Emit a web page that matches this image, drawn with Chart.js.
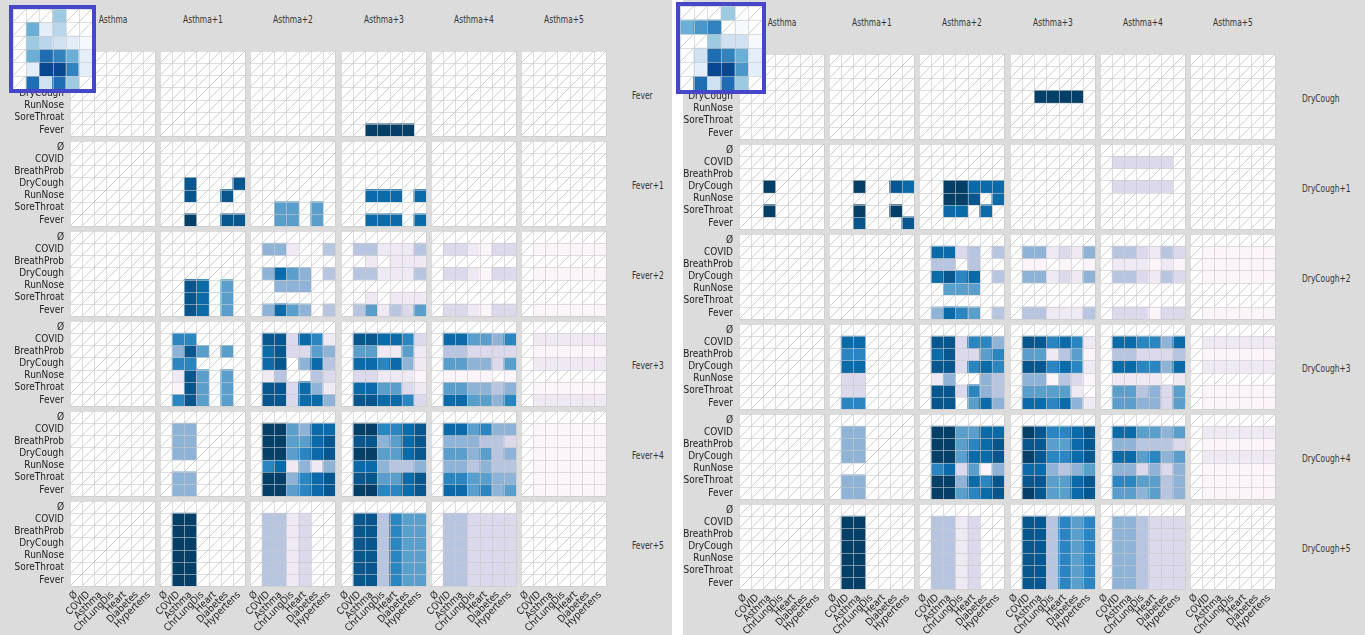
<!DOCTYPE html>
<html>
<head>
<meta charset="utf-8">
<script src="https://cdn.jsdelivr.net/npm/chart.js@4.4.1/dist/chart.umd.min.js"></script>
<style>
  html, body { margin: 0; padding: 0; background: #fff; }
  body { width: 1365px; height: 635px; position: relative; overflow: hidden;
         font-family: 'DejaVu Sans Condensed', 'Liberation Sans', sans-serif; }
  .panel { position: absolute; top: 0; height: 635px; background: #dcdcdc; }
  .lbl { position: absolute; font-size: 11px; line-height: 12px; color: #333; white-space: nowrap;
         transform: scaleX(0.76); transform-origin: left center; }
  .lbl.head { transform-origin: center center; }
  canvas { position: absolute; }
  .inset { position: absolute; box-sizing: border-box; border: 4px solid #4646c8; background: #fff; }
  .inset canvas { left: 0; top: 0; }
</style>
</head>
<body>
<script>
// axis categories inside every small heatmap
const COLS = ['Ø', 'COVID', 'Asthma', 'ChrLungDis', 'Heart', 'Diabetes', 'Hypertens'];
const ROWS = ['Ø', 'COVID', 'BreathProb', 'DryCough', 'RunNose', 'SoreThroat', 'Fever'];

// facet labels
const FACET_COLS = ['Asthma', 'Asthma+1', 'Asthma+2', 'Asthma+3', 'Asthma+4', 'Asthma+5'];
const LEFT_ROWS = ['Fever', 'Fever+1', 'Fever+2', 'Fever+3', 'Fever+4', 'Fever+5'];
const RIGHT_ROWS = ['DryCough', 'DryCough+1', 'DryCough+2', 'DryCough+3', 'DryCough+4', 'DryCough+5'];

// colour levels 0..9 ('.' = no value, hatched)
const PUBU = ['#fbf4f9', '#eee9f3', '#dbd9eb', '#b8c5e0', '#8fb3d6', '#5a9fcc', '#2b85c0', '#0b6aa8', '#07568e', '#033f66'];
const BLUES = ['#f5f9fe', '#e3eef9', '#d0e1f2', '#bad6eb', '#9ecae1', '#6baed6', '#4a98c9', '#3182bd', '#1f6eb3', '#08468f'];

// left panel: one list per facet row, one entry per facet column (rows Ø..Fever, cols Ø..Hypertens)
const fever0 = [
  null, null, null,
  ['.......', '.......', '.......', '.......', '.......', '.......', '..9999.'],
  null, null
];
const fever1 = [
  null,
  ['.......', '.......', '.......', '..8...8', '..8..8.', '.......', '..9..88'],
  ['.......', '.......', '.......', '.......', '.......', '..55.5.', '..55.5.'],
  ['.......', '.......', '.......', '.......', '..777.7', '.......', '..777.7'],
  null, null
];
const fever2 = [
  null,
  ['.......', '.......', '.......', '.......', '..87.5.', '..87.5.', '..87.5.'],
  ['.......', '.441..3', '.......', '.4754.3', '..444..', '.......', '.4754.3'],
  ['.......', '.331113', '..1.111', '.331113', '.......', '..1.111', '.351325'],
  ['.......', '.221022', '.......', '.221022', '.......', '.......', '.221022'],
  ['.......', '.000000', '.......', '.000000', '.......', '.......', '.000000']
];
const fever3 = [
  null,
  ['.......', '.66....', '.485.5.', '.66....', '.185.5.', '.085.5.', '.685.5.'],
  ['.......', '.882761', '.782254', '.78.473', '.13..32', '.882741', '.882774'],
  ['.......', '.887762', '.551151', '.776741', '.221110', '.775521', '.887762'],
  ['.......', '.775546', '.332222', '.554425', '.0000.0', '.554434', '.775546'],
  ['.......', '.111111', '.000000', '.111111', '.......', '.000000', '.111111']
];
const fever4 = [
  null,
  ['.......', '.44....', '.44....', '.44....', '.......', '.44....', '.44....'],
  ['.......', '.995477', '.995578', '.995678', '.671414', '.994678', '.995678'],
  ['.......', '.996678', '.884578', '.995578', '.774334', '.885578', '.996678'],
  ['.......', '.775644', '.444332', '.554534', '.443433', '.665544', '.775645'],
  ['.......', '.000000', '.000000', '.000000', '.000000', '.000000', '.000000']
];
const fever5 = [
  null,
  ['.......', '.99....', '.99....', '.99....', '.99....', '.99....', '.99....'],
  ['.......', '.3312..', '.3312..', '.3312..', '.3312..', '.3312..', '.3312..'],
  ['.......', '.883655', '.883655', '.883655', '.883655', '.883655', '.883655'],
  ['.......', '.332222', '.332222', '.332222', '.332222', '.332222', '.332222'],
  null
];

// right panel
const dry0 = [
  null, null, null,
  ['.......', '.......', '.......', '..9999.', '.......', '.......', '.......'],
  null, null
];
const dry1 = [
  ['.......', '.......', '.......', '..9....', '.......', '..9....', '.......'],
  ['.......', '.......', '.......', '..9..87', '.......', '..9..9.', '..8...8'],
  ['.......', '.......', '.......', '..99777', '..998.7', '..77.7.', '.......'],
  null,
  ['.......', '.22222.', '.......', '.22222.', '.......', '.......', '.......'],
  null
];
const dry2 = [
  null, null,
  ['.......', '.7723.3', '.33.3..', '.7867.3', '..555..', '.......', '.4765.3'],
  ['.......', '.441214', '.00.0.0', '.441214', '.......', '.......', '.331113'],
  ['.......', '.332132', '.111010', '.332132', '.......', '.......', '.222022'],
  ['.......', '.000000', '.000000', '.000000', '.......', '.......', '.000000']
];
const dry3 = [
  null,
  ['.......', '.77....', '.66....', '.77....', '.22....', '.22....', '.66....'],
  ['.......', '.882664', '.782256', '.882676', '.14..43', '.882643', '.88.574'],
  ['.......', '.886761', '.551350', '.886761', '.440320', '.55551.', '.776741'],
  ['.......', '.776647', '.332223', '.776647', '.1111.1', '.553425', '.554425'],
  ['.......', '.111111', '.000000', '.111111', '.......', '.000000', '.000000']
];
const dry4 = [
  null,
  ['.......', '.44....', '.44....', '.44....', '.......', '.44....', '.44....'],
  ['.......', '.995577', '.995678', '.995778', '.672504', '.994768', '.995678'],
  ['.......', '.986678', '.885578', '.986678', '.774345', '.885578', '.985578'],
  ['.......', '.775545', '.443332', '.775645', '.442424', '.665534', '.554534'],
  ['.......', '.111111', '.000000', '.111111', '.000000', '.000000', '.000000']
];
const dry5 = [
  null,
  ['.......', '.99....', '.99....', '.99....', '.99....', '.99....', '.99....'],
  ['.......', '.3312..', '.3312..', '.3312..', '.3312..', '.3312..', '.3312..'],
  ['.......', '.883656', '.883656', '.883656', '.883656', '.883656', '.883656'],
  ['.......', '.443222', '.443222', '.443222', '.443222', '.443222', '.443222'],
  null
];

// overview insets (facet rows x facet cols)
const leftInset = ['...4..', '.513..', '.43210', '.58751', '.19971', '.8284.'];
const rightInset = ['...4..', '567.0.', '..4220', '.28751', '.19961', '.8284.'];

// layout
const SIZE = 85, PITCH_X = 90.2, PITCH_Y = 90;
const PAD = 14, YW = 64, XH = 50;
const TICK_FONT = { family: "'DejaVu Sans Condensed', 'Liberation Sans', sans-serif", size: 10 };

const PANELS = [
  { bg: [0, 672], x0: 70, y0: 51, rows: LEFT_ROWS, facets: [fever0, fever1, fever2, fever3, fever4, fever5],
    inset: leftInset, box: [9, 5, 87, 88], rowLabelX: 632 },
  { bg: [683, 682], x0: 739, y0: 54, rows: RIGHT_ROWS, facets: [dry0, dry1, dry2, dry3, dry4, dry5],
    inset: rightInset, box: [676, 2, 90, 92], rowLabelX: 1302 }
];

// white cells with diagonal hatch underneath, light grid on top
const cellPlugin = {
  id: 'cells',
  beforeDatasetsDraw(chart) {
    const { ctx, chartArea: a } = chart;
    const nx = chart.data.labels.length, ny = chart.data.datasets.length;
    const cw = (a.right - a.left) / nx, ch = (a.bottom - a.top) / ny;
    ctx.save();
    ctx.fillStyle = '#fff';
    ctx.fillRect(a.left, a.top, a.right - a.left, a.bottom - a.top);
    ctx.strokeStyle = '#c6c6c6';
    ctx.lineWidth = 0.9;
    ctx.beginPath();
    for (let r = 0; r < ny; r++) {
      for (let c = 0; c < nx; c++) {
        ctx.moveTo(a.left + c * cw, a.top + (r + 1) * ch);
        ctx.lineTo(a.left + (c + 1) * cw, a.top + r * ch);
      }
    }
    ctx.stroke();
    ctx.restore();
  },
  afterDatasetsDraw(chart) {
    const { ctx, chartArea: a } = chart;
    const nx = chart.data.labels.length, ny = chart.data.datasets.length;
    const cw = (a.right - a.left) / nx, ch = (a.bottom - a.top) / ny;
    ctx.save();
    ctx.strokeStyle = 'rgba(200,200,200,0.6)';
    ctx.lineWidth = 1;
    ctx.beginPath();
    for (let c = 0; c <= nx; c++) {
      const x = Math.round(a.left + c * cw) + 0.5;
      ctx.moveTo(x, a.top); ctx.lineTo(x, a.bottom);
    }
    for (let r = 0; r <= ny; r++) {
      const y = Math.round(a.top + r * ch) + 0.5;
      ctx.moveTo(a.left, y); ctx.lineTo(a.right, y);
    }
    ctx.stroke();
    ctx.restore();
  }
};

function heatmap(canvas, grid, xLabels, yLabels, palette, opts) {
  const n = yLabels.length;
  const filled = (r, c) => grid && grid[r][c] !== '.';
  return new Chart(canvas, {
    type: 'bar',
    data: {
      labels: xLabels,
      datasets: yLabels.map((name, r) => ({
        label: name,
        data: xLabels.map((_, c) => filled(r, c) ? [n - 1 - r, n - r] : null),
        backgroundColor: xLabels.map((_, c) => filled(r, c) ? palette[Number(grid[r][c])] : 'rgba(0,0,0,0)'),
        borderWidth: 0,
        grouped: false,
        categoryPercentage: 1,
        barPercentage: 1
      }))
    },
    options: {
      responsive: false,
      animation: false,
      devicePixelRatio: 1,
      events: [],
      layout: { padding: opts.padding },
      plugins: { legend: { display: false }, tooltip: { enabled: false } },
      scales: {
        x: {
          type: 'category',
          display: !!opts.showX,
          offset: true,
          grid: { display: false, drawTicks: false },
          border: { display: false },
          ticks: { autoSkip: false, minRotation: 45, maxRotation: 45, padding: 3, color: '#222', font: TICK_FONT },
          afterFit: opts.showX ? s => { s.height = XH; } : undefined
        },
        y: {
          type: 'linear',
          min: 0,
          max: n,
          display: !!opts.showY,
          grid: { display: false, drawTicks: false },
          border: { display: false },
          afterBuildTicks: s => { s.ticks = yLabels.map((_, r) => ({ value: n - 0.5 - r })); },
          ticks: {
            autoSkip: false, padding: 6, color: '#222', font: TICK_FONT,
            callback: v => yLabels[Math.round(n - 0.5 - v)]
          },
          afterFit: opts.showY ? s => { s.width = YW; } : undefined
        }
      }
    },
    plugins: [cellPlugin]
  });
}

function addLabel(text, left, top, cls) {
  const d = document.createElement('div');
  d.className = 'lbl' + (cls ? ' ' + cls : '');
  d.textContent = text;
  d.style.left = left + 'px';
  d.style.top = top + 'px';
  if (cls === 'head') { d.style.width = '90px'; d.style.textAlign = 'center'; }
  document.body.appendChild(d);
}

PANELS.forEach(p => {
  const bg = document.createElement('div');
  bg.className = 'panel';
  bg.style.left = p.bg[0] + 'px';
  bg.style.width = p.bg[1] + 'px';
  document.body.appendChild(bg);

  // facet column headers
  FACET_COLS.forEach((name, i) => {
    const x = Math.round(p.x0 + i * PITCH_X);
    addLabel(name, x + SIZE / 2 - 45, p.y0 - 37, 'head');
  });
  // facet row labels
  p.rows.forEach((name, j) => {
    addLabel(name, p.rowLabelX, p.y0 + j * PITCH_Y + SIZE / 2 - 4);
  });

  p.facets.forEach((facetRow, j) => {
    facetRow.forEach((grid, i) => {
      const x = Math.round(p.x0 + i * PITCH_X), y = p.y0 + j * PITCH_Y;
      const showY = i === 0, showX = j === p.facets.length - 1;
      const left = PAD + (showY ? YW : 0);
      const bottom = PAD + (showX ? XH : 0);
      const cv = document.createElement('canvas');
      cv.width = left + SIZE + PAD;
      cv.height = PAD + SIZE + bottom;
      cv.style.left = (x - left) + 'px';
      cv.style.top = (y - PAD) + 'px';
      document.body.appendChild(cv);
      heatmap(cv, grid, COLS, ROWS, PUBU, {
        showX, showY,
        padding: { left: PAD, right: PAD, top: PAD, bottom: PAD }
      });
    });
  });

  // overview inset, drawn over the top-left corner
  const box = document.createElement('div');
  box.className = 'inset';
  box.style.left = p.box[0] + 'px';
  box.style.top = p.box[1] + 'px';
  box.style.width = p.box[2] + 'px';
  box.style.height = p.box[3] + 'px';
  const cv = document.createElement('canvas');
  cv.width = p.box[2] - 8;
  cv.height = p.box[3] - 8;
  box.appendChild(cv);
  document.body.appendChild(box);
  heatmap(cv, p.inset, FACET_COLS, p.rows, BLUES, { padding: 0 });
});
</script>
</body>
</html>
